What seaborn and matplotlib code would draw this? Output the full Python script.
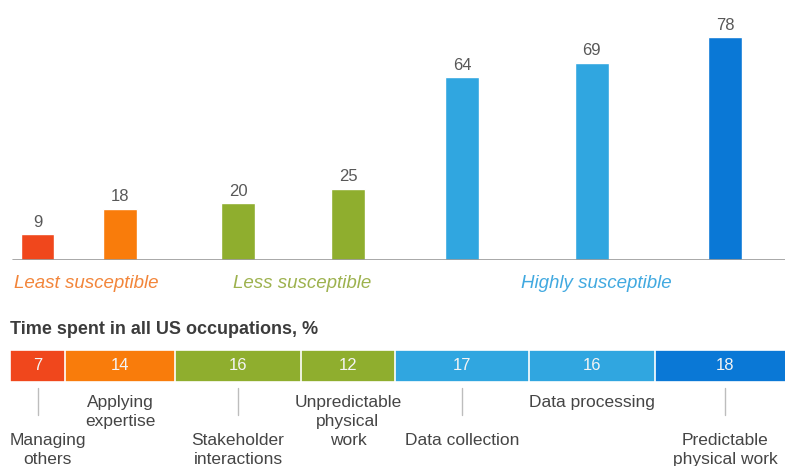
import numpy as np
import pandas as pd
import matplotlib
matplotlib.use("Agg")
import matplotlib.pyplot as plt
import seaborn as sns

# --- data -------------------------------------------------------------
tasks = [
    "Managing others",
    "Applying expertise",
    "Stakeholder interactions",
    "Unpredictable physical work",
    "Data collection",
    "Data processing",
    "Predictable physical work",
]
automation_potential = [9, 18, 20, 25, 64, 69, 78]   # % of time automatable
time_share = [7, 14, 16, 12, 17, 16, 18]             # % of time in US occupations
task_labels = [
    "Managing\nothers",
    "Applying\nexpertise",
    "Stakeholder\ninteractions",
    "Unpredictable\nphysical\nwork",
    "Data collection",
    "Data processing",
    "Predictable\nphysical work",
]
group_names = ["Least susceptible", "Less susceptible", "Highly susceptible"]
subtitle = "Time spent in all US occupations, %"

# --- styling ----------------------------------------------------------
task_colors = ["#F0471C", "#F97C0B", "#8FAE2E", "#8FAE2E",
               "#30A6E0", "#30A6E0", "#0A78D6"]
group_colors = ["#F2853A", "#9DB24E", "#41A9E0"]
group_x = [9.7, 37.2, 74.6]          # label centres on the shared 0-100 axis
FONT = ["Liberation Sans", "DejaVu Sans"]

sns.set_style("white")
plt.rcParams["font.family"] = FONT

W_PX, H_PX = 785, 466
fig = plt.figure(figsize=(W_PX / 100, H_PX / 100), dpi=100)

# horizontal mapping shared by all axes: 0..100 % of time -> px 10..796
left = 10 / W_PX
width = 786 / W_PX

cum = np.cumsum(time_share)
centers = cum - np.array(time_share) / 2

# --- automation potential bars (positioned at the middle of each time share)
ax = fig.add_axes([left, (H_PX - 260) / H_PX, width, 2.86 * 80 / H_PX])
bars_df = pd.DataFrame({"pos": centers, "value": automation_potential, "task": tasks})
native_unit = np.min(np.diff(np.sort(centers)))
sns.barplot(data=bars_df, x="pos", y="value", hue="task", hue_order=tasks,
            palette=dict(zip(tasks, task_colors)), native_scale=True,
            width=4.3 / native_unit, saturation=1, legend=False, ax=ax)
for cont in ax.containers:
    ax.bar_label(cont, fmt="%g", padding=3, fontsize=12, color="#585858")
ax.set_xlim(0, 100)
ax.set_ylim(0, 80)
ax.axhline(0, xmin=0.004, xmax=1, color="#9A9A9A", lw=1.2, zorder=3)
ax.set_axis_off()

# --- stacked bar of time spent ---------------------------------------
ax2 = fig.add_axes([left, (H_PX - 382) / H_PX, width, 32 / H_PX])
stack_df = pd.DataFrame({"row": ["all"] * len(tasks), "cum": cum, "task": tasks})
sns.barplot(data=stack_df, x="cum", y="row", hue="task", hue_order=tasks[::-1],
            palette=dict(zip(tasks, task_colors)), orient="h", dodge=False,
            width=1, saturation=1, legend=False, edgecolor="white",
            linewidth=1.2, ax=ax2)
for c, v in zip(centers, time_share):
    ax2.text(c, 0, str(v), ha="center", va="center", color="#F4F4F4", fontsize=12)
ax2.set_xlim(0, 100)
ax2.set_ylim(0.5, -0.5)
ax2.set_axis_off()

# --- text layer (x in % of time, y in pixels from top) ---------------
ax3 = fig.add_axes([left, 0, width, 1])
ax3.set_xlim(0, 100)
ax3.set_ylim(H_PX, 0)
ax3.set_axis_off()
ax3.patch.set_alpha(0)

ax3.text(0, 330, subtitle, ha="left", va="center", fontsize=13,
         fontweight="bold", color="#3C3C3C")

for name, gx, gc in zip(group_names, group_x, group_colors):
    ax3.text(gx, 283, name, ha="center", va="center", fontsize=13.5,
             style="italic", color=gc)

for i, (lab, c) in enumerate(zip(task_labels, centers)):
    if i % 2 == 0:
        # lower row with a leader line
        ax3.plot([c, c], [388, 415], color="#BDBDBD", lw=1)
        x = c + 1.3 if i == 0 else c
        ax3.text(x, 433, lab, ha="center", va="top", fontsize=12.5,
                 color="#454545", linespacing=1.33)
    else:
        ax3.text(c, 395, lab, ha="center", va="top", fontsize=12.5,
                 color="#454545", linespacing=1.33)

fig.savefig("out.png", dpi=100)
